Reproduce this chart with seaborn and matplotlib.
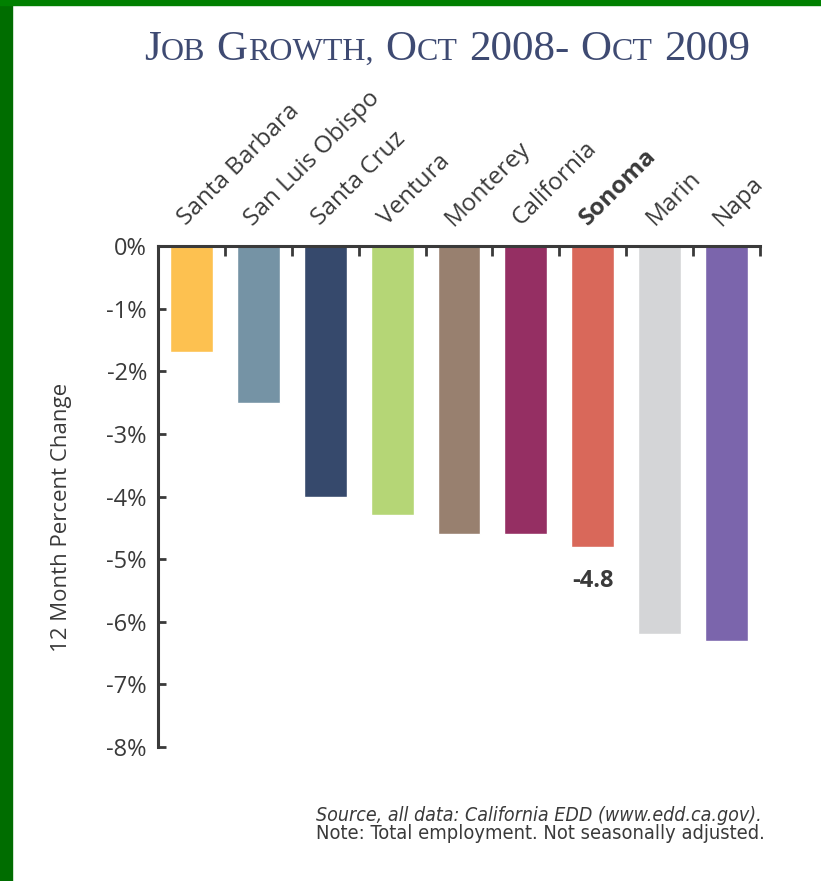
import matplotlib
matplotlib.use("Agg")
import matplotlib.pyplot as plt
import matplotlib.transforms as mtransforms
from matplotlib.patches import Rectangle
import seaborn as sns
import pandas as pd

# data
regions = ["Santa Barbara", "San Luis Obispo", "Santa Cruz", "Ventura", "Monterey",
           "California", "Sonoma", "Marin", "Napa"]
change = [-1.7, -2.5, -4.0, -4.3, -4.6, -4.6, -4.8, -6.2, -6.3]
colors = ["#FDC150", "#7593A5", "#36496C", "#B5D676", "#98806F",
          "#952F63", "#D9685A", "#D4D5D7", "#7B65AC"]
y_ticks = [0, -1, -2, -3, -4, -5, -6, -7, -8]
highlight = "Sonoma"

sns.set_style("white")
plt.rcParams["font.family"] = ["Open Sans", "DejaVu Sans"]
ink = "#3a3a3a"

df = pd.DataFrame({"region": regions, "change": change})

fig = plt.figure(figsize=(8.21, 8.81), dpi=100)
fig.patch.set_facecolor("white")
ax = fig.add_axes([158 / 821, 1 - 747 / 881, 602 / 821, 501 / 881])

sns.barplot(data=df, x="region", y="change", hue="region", palette=colors,
            order=regions, hue_order=regions, width=0.64, saturation=1,
            legend=False, ax=ax)

ax.set_xlim(-0.5, len(regions) - 0.5)
ax.set_ylim(-8, 0)
ax.set_xlabel("")
ax.set_ylabel("12 Month Percent Change", fontsize=16, color=ink)
ax.yaxis.set_label_coords(-0.143, 0.459)

# spines: left and top only
for side in ["bottom", "right"]:
    ax.spines[side].set_visible(False)
for side in ["left", "top"]:
    ax.spines[side].set_visible(True)
    ax.spines[side].set_color(ink)
    ax.spines[side].set_linewidth(2.2)

# y ticks
ax.set_yticks(y_ticks)
ax.set_yticklabels([f"{v}%" for v in y_ticks])
ax.tick_params(axis="y", direction="in", length=6, width=2, color=ink,
               labelsize=17, labelcolor=ink, pad=8, left=True)

# x axis on top, tick marks between bars
ax.xaxis.tick_top()
ax.set_xticks(range(len(regions)))
ax.set_xticks([i + 0.5 for i in range(len(regions))], minor=True)
ax.tick_params(axis="x", which="major", length=0, pad=11, labelsize=17.5, labelcolor=ink)
ax.tick_params(axis="x", which="minor", direction="in", length=7, width=2,
               color=ink, top=True, bottom=False)
shift = mtransforms.ScaledTranslation(-0.01, 0, fig.dpi_scale_trans)
for lab in ax.get_xticklabels():
    lab.set_rotation(45)
    lab.set_ha("left")
    lab.set_va("bottom")
    lab.set_rotation_mode("anchor")
    lab.set_transform(lab.get_transform() + shift)
    if lab.get_text() == highlight:
        lab.set_fontweight("bold")

# value label under the highlighted bar
hi = regions.index(highlight)
ax.text(hi, change[hi] - 0.55, f"{change[hi]}", ha="center", va="center",
        fontsize=17, fontweight="bold", color=ink)

# small-caps title built from pieces
big, small = 31, 23
pieces = [("J", big), ("OB", small), (" ", big), ("G", big), ("ROWTH,", small), (" ", big),
          ("O", big), ("CT", small), (" ", big), ("2008-", big), (" ", big),
          ("O", big), ("CT", small), (" ", big), ("2009", big)]
title_color = "#3E4A72"
texts = []
for s, size in pieces:
    t = fig.text(0, 1 - 60 / 881, s.strip(), fontsize=size,
                 family=["Liberation Serif", "DejaVu Serif"], color=title_color,
                 va="baseline", ha="left")
    texts.append((t, s, size))
fig.canvas.draw()
renderer = fig.canvas.get_renderer()
widths = []
for t, s, size in texts:
    if s == " ":
        widths.append(size * 0.25 * fig.dpi / 72)
    else:
        widths.append(t.get_window_extent(renderer).width + 0.5)
total = sum(widths)
x = 447 - total / 2
for (t, s, size), w in zip(texts, widths):
    t.set_x(x / 821)
    x += w

# footer
foot_family = ["Liberation Sans Narrow", "DejaVu Sans"]
fig.text(316 / 821, 1 - 821 / 881, "Source, all data: California EDD (www.edd.ca.gov).",
         fontsize=14, style="italic", color=ink, fontstretch="condensed",
         family=foot_family, ha="left", va="baseline")
fig.text(316 / 821, 1 - 839 / 881, "Note: Total employment. Not seasonally adjusted.",
         fontsize=14.4, color=ink, fontstretch="condensed",
         family=foot_family, ha="left", va="baseline")

# green frame on left and top edges
fig.patches.append(Rectangle((0, 0), 12 / 821, 1, transform=fig.transFigure,
                             color="#006d00", zorder=0))
fig.patches.append(Rectangle((0, 1 - 5 / 881), 1, 5 / 881, transform=fig.transFigure,
                             color="#008000", zorder=0))

fig.savefig("out.png", dpi=100, facecolor="white")
